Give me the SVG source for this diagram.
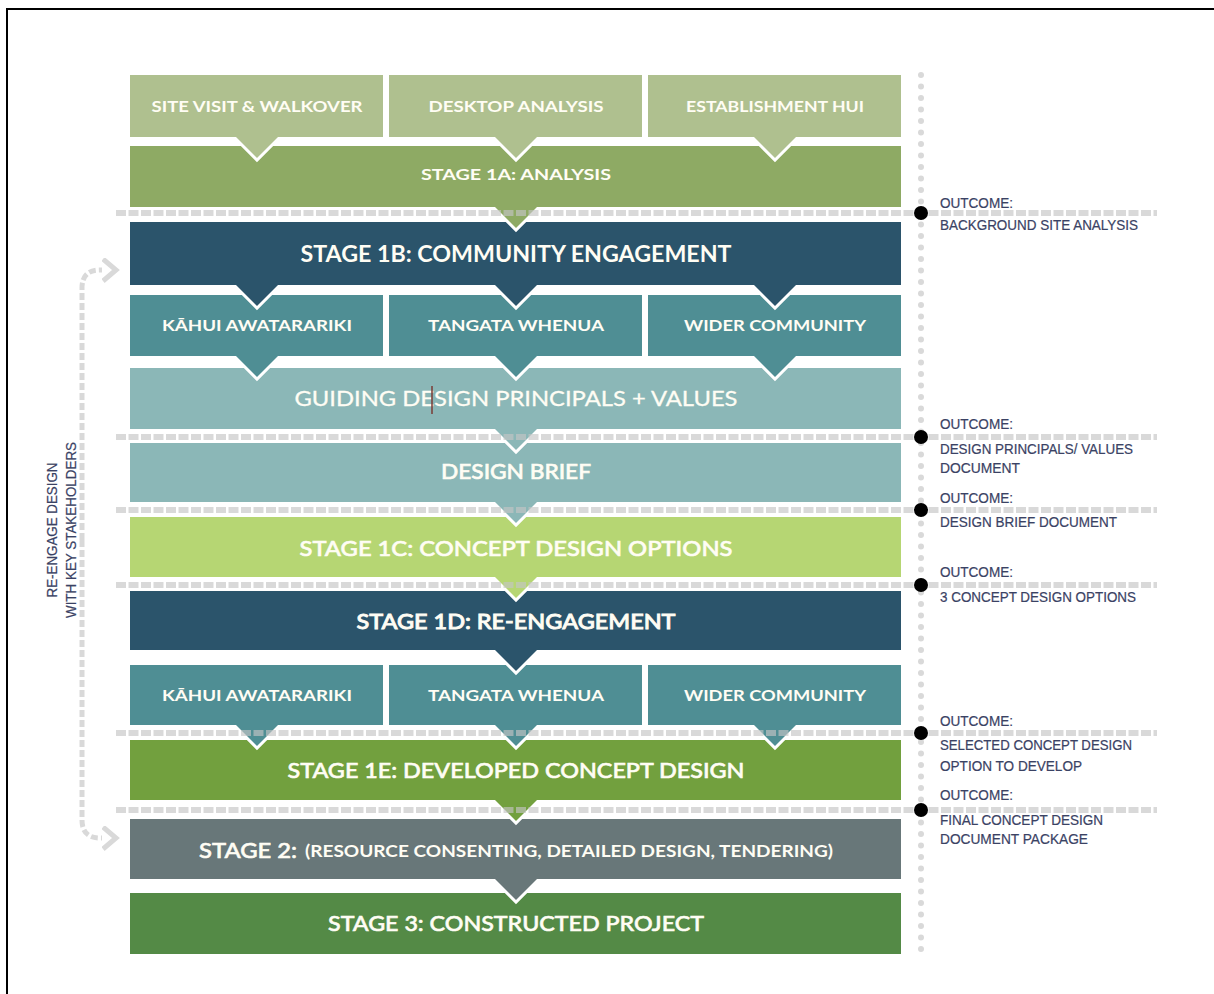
<svg xmlns="http://www.w3.org/2000/svg" xmlns:xlink="http://www.w3.org/1999/xlink" width="1214" height="994" viewBox="0 0 1214 994">
<style>
.lbl{font-family:Lato,"Liberation Sans",sans-serif;fill:#fffdf4;text-anchor:middle}
.sm{font-size:16px;font-weight:700}
.lg{font-size:22px;font-weight:500;stroke:#fffdf4;stroke-width:0.6}
.lgb{font-size:22px;font-weight:700}
.out{font-family:"Liberation Sans Narrow","Liberation Sans",sans-serif;font-size:14px;fill:#3a4264;stroke:#3a4264;stroke-width:0.2}
.sep{stroke:#c4c4c4;stroke-opacity:0.65;stroke-width:6;stroke-dasharray:10 2.5;fill:none}
.loop{stroke:#d9d9d9;stroke-width:5;stroke-dasharray:7 3;fill:none}
</style>
<defs>
<path id="chevO" d="M-21,0 L0,21 L21,0" fill="none" stroke="#ffffff" stroke-width="6"/>
<path id="chevF" d="M-25,-4 L25,-4 L0,21 Z"/>
<marker id="arr" viewBox="0 0 18 26" refX="0" refY="12" markerWidth="18" markerHeight="26" markerUnits="userSpaceOnUse" orient="auto">
<path d="M1,1 L14,12 L1,23" fill="none" stroke="#d9d9d9" stroke-width="5"/>
</marker>
</defs>
<rect width="1214" height="994" fill="#ffffff"/>
<polyline points="7,994 7,9 1214,9" fill="none" stroke="#000" stroke-width="2"/>

<!-- nodes drawn bottom-up so chevrons overlap the next box -->
<g id="stage3">
<rect x="130" y="893" width="771" height="61" fill="#548a46"/>
<text class="lbl lg" x="516" y="931" textLength="376" lengthAdjust="spacingAndGlyphs">STAGE 3: CONSTRUCTED PROJECT</text>
</g>
<g id="stage2">
<rect x="130" y="819" width="771" height="60" fill="#687779"/>
<use xlink:href="#chevO" x="516" y="879"/><use xlink:href="#chevF" x="516" y="879" fill="#687779"/>
<text class="lbl lg" x="199" y="858" style="text-anchor:start" textLength="98" lengthAdjust="spacingAndGlyphs">STAGE 2:</text>
<text class="lbl sm" x="305" y="857" style="text-anchor:start;font-size:17px" textLength="528" lengthAdjust="spacingAndGlyphs">(RESOURCE CONSENTING, DETAILED DESIGN, TENDERING)</text>
</g>
<g id="stage1e">
<rect x="130" y="740" width="771" height="60" fill="#72a03e"/>
<use xlink:href="#chevO" x="516" y="800"/><use xlink:href="#chevF" x="516" y="800" fill="#72a03e"/>
<text class="lbl lg" x="516" y="778" textLength="457" lengthAdjust="spacingAndGlyphs">STAGE 1E: DEVELOPED CONCEPT DESIGN</text>
</g>
<g id="kahui2">
<rect x="130" y="665" width="253" height="60" fill="#4f8e94"/>
<use xlink:href="#chevO" x="257" y="725"/><use xlink:href="#chevF" x="257" y="725" fill="#4f8e94"/>
<text class="lbl sm" x="257" y="701" textLength="190" lengthAdjust="spacingAndGlyphs">KĀHUI AWATARARIKI</text>
</g>
<g id="tangata2">
<rect x="389" y="665" width="253" height="60" fill="#4f8e94"/>
<use xlink:href="#chevO" x="516" y="725"/><use xlink:href="#chevF" x="516" y="725" fill="#4f8e94"/>
<text class="lbl sm" x="516" y="701" textLength="176" lengthAdjust="spacingAndGlyphs">TANGATA WHENUA</text>
</g>
<g id="wider2">
<rect x="648" y="665" width="253" height="60" fill="#4f8e94"/>
<use xlink:href="#chevO" x="775" y="725"/><use xlink:href="#chevF" x="775" y="725" fill="#4f8e94"/>
<text class="lbl sm" x="775" y="701" textLength="182" lengthAdjust="spacingAndGlyphs">WIDER COMMUNITY</text>
</g>
<g id="stage1d">
<rect x="130" y="591" width="771" height="59" fill="#2b546b"/>
<use xlink:href="#chevO" x="516" y="650"/><use xlink:href="#chevF" x="516" y="650" fill="#2b546b"/>
<text class="lbl lg" x="516" y="629" style="stroke-width:0.9" textLength="319" lengthAdjust="spacingAndGlyphs">STAGE 1D: RE-ENGAGEMENT</text>
</g>
<g id="stage1c">
<rect x="130" y="517" width="771" height="60" fill="#b6d673"/>
<use xlink:href="#chevO" x="516" y="577"/><use xlink:href="#chevF" x="516" y="577" fill="#b6d673"/>
<text class="lbl lg" x="516" y="556" textLength="433" lengthAdjust="spacingAndGlyphs">STAGE 1C: CONCEPT DESIGN OPTIONS</text>
</g>
<g id="designbrief">
<rect x="130" y="443" width="771" height="59" fill="#8bb7b7"/>
<use xlink:href="#chevO" x="516" y="502"/><use xlink:href="#chevF" x="516" y="502" fill="#8bb7b7"/>
<text class="lbl lg" x="516" y="479" textLength="150" lengthAdjust="spacingAndGlyphs">DESIGN BRIEF</text>
</g>
<g id="guiding">
<rect x="130" y="368" width="771" height="61" fill="#8bb7b7"/>
<use xlink:href="#chevO" x="516" y="429"/><use xlink:href="#chevF" x="516" y="429" fill="#8bb7b7"/>
<text class="lbl lg" x="516" y="406" style="font-weight:400;stroke-width:0.3" textLength="443" lengthAdjust="spacingAndGlyphs">GUIDING DESIGN PRINCIPALS + VALUES</text>
<line x1="432" y1="386" x2="432" y2="414" stroke="#7a3b35" stroke-width="1.5"/>
</g>
<g id="kahui1">
<rect x="130" y="295" width="253" height="61" fill="#4f8e94"/>
<use xlink:href="#chevO" x="257" y="356"/><use xlink:href="#chevF" x="257" y="356" fill="#4f8e94"/>
<text class="lbl sm" x="257" y="331" textLength="190" lengthAdjust="spacingAndGlyphs">KĀHUI AWATARARIKI</text>
</g>
<g id="tangata1">
<rect x="389" y="295" width="253" height="61" fill="#4f8e94"/>
<use xlink:href="#chevO" x="516" y="356"/><use xlink:href="#chevF" x="516" y="356" fill="#4f8e94"/>
<text class="lbl sm" x="516" y="331" textLength="176" lengthAdjust="spacingAndGlyphs">TANGATA WHENUA</text>
</g>
<g id="wider1">
<rect x="648" y="295" width="253" height="61" fill="#4f8e94"/>
<use xlink:href="#chevO" x="775" y="356"/><use xlink:href="#chevF" x="775" y="356" fill="#4f8e94"/>
<text class="lbl sm" x="775" y="331" textLength="182" lengthAdjust="spacingAndGlyphs">WIDER COMMUNITY</text>
</g>
<g id="stage1b">
<rect x="130" y="222" width="771" height="63" fill="#2b546b"/>
<use xlink:href="#chevO" x="257" y="285"/><use xlink:href="#chevF" x="257" y="285" fill="#2b546b"/>
<use xlink:href="#chevO" x="516" y="285"/><use xlink:href="#chevF" x="516" y="285" fill="#2b546b"/>
<use xlink:href="#chevO" x="775" y="285"/><use xlink:href="#chevF" x="775" y="285" fill="#2b546b"/>
<text class="lbl lgb" x="516" y="262" textLength="431" lengthAdjust="spacingAndGlyphs">STAGE 1B: COMMUNITY ENGAGEMENT</text>
</g>
<g id="stage1a">
<rect x="130" y="146" width="771" height="61" fill="#8eaa64"/>
<use xlink:href="#chevO" x="516" y="207"/><use xlink:href="#chevF" x="516" y="207" fill="#8eaa64"/>
<text class="lbl sm" x="516" y="180" textLength="190" lengthAdjust="spacingAndGlyphs">STAGE 1A: ANALYSIS</text>
</g>
<g id="sitevisit">
<rect x="130" y="75" width="253" height="62" fill="#afc08f"/>
<use xlink:href="#chevO" x="257" y="137"/><use xlink:href="#chevF" x="257" y="137" fill="#afc08f"/>
<text class="lbl sm" x="257" y="112" textLength="211" lengthAdjust="spacingAndGlyphs">SITE VISIT &amp; WALKOVER</text>
</g>
<g id="desktop">
<rect x="389" y="75" width="253" height="62" fill="#afc08f"/>
<use xlink:href="#chevO" x="516" y="137"/><use xlink:href="#chevF" x="516" y="137" fill="#afc08f"/>
<text class="lbl sm" x="516" y="112" textLength="175" lengthAdjust="spacingAndGlyphs">DESKTOP ANALYSIS</text>
</g>
<g id="establishment">
<rect x="648" y="75" width="253" height="62" fill="#afc08f"/>
<use xlink:href="#chevO" x="775" y="137"/><use xlink:href="#chevF" x="775" y="137" fill="#afc08f"/>
<text class="lbl sm" x="775" y="112" textLength="178" lengthAdjust="spacingAndGlyphs">ESTABLISHMENT HUI</text>
</g>

<!-- timeline -->
<g id="timeline">
<line x1="921" y1="75" x2="921" y2="953" stroke="#d9d9d9" stroke-width="6" stroke-linecap="round" stroke-dasharray="0 11.5"/>
<line class="sep" x1="116" y1="213" x2="1157" y2="213"/>
<line class="sep" x1="116" y1="437" x2="1157" y2="437"/>
<line class="sep" x1="116" y1="510" x2="1157" y2="510"/>
<line class="sep" x1="116" y1="585" x2="1157" y2="585"/>
<line class="sep" x1="116" y1="733" x2="1157" y2="733"/>
<line class="sep" x1="116" y1="810" x2="1157" y2="810"/>
<circle cx="921" cy="213" r="7" fill="#000"/>
<circle cx="921" cy="437" r="7" fill="#000"/>
<circle cx="921" cy="510" r="7" fill="#000"/>
<circle cx="921" cy="585" r="7" fill="#000"/>
<circle cx="921" cy="733" r="7" fill="#000"/>
<circle cx="921" cy="810" r="7" fill="#000"/>
</g>

<g id="outcomes">
<text class="out" x="940" y="208" textLength="73" lengthAdjust="spacingAndGlyphs">OUTCOME:</text>
<text class="out" x="940" y="230" textLength="198" lengthAdjust="spacingAndGlyphs">BACKGROUND SITE ANALYSIS</text>
<text class="out" x="940" y="429" textLength="73" lengthAdjust="spacingAndGlyphs">OUTCOME:</text>
<text class="out" x="940" y="454" textLength="193" lengthAdjust="spacingAndGlyphs">DESIGN PRINCIPALS/ VALUES</text>
<text class="out" x="940" y="473" textLength="80" lengthAdjust="spacingAndGlyphs">DOCUMENT</text>
<text class="out" x="940" y="503" textLength="73" lengthAdjust="spacingAndGlyphs">OUTCOME:</text>
<text class="out" x="940" y="527" textLength="177" lengthAdjust="spacingAndGlyphs">DESIGN BRIEF DOCUMENT</text>
<text class="out" x="940" y="577" textLength="73" lengthAdjust="spacingAndGlyphs">OUTCOME:</text>
<text class="out" x="940" y="602" textLength="196" lengthAdjust="spacingAndGlyphs">3 CONCEPT DESIGN OPTIONS</text>
<text class="out" x="940" y="726" textLength="73" lengthAdjust="spacingAndGlyphs">OUTCOME:</text>
<text class="out" x="940" y="750" textLength="192" lengthAdjust="spacingAndGlyphs">SELECTED CONCEPT DESIGN</text>
<text class="out" x="940" y="771" textLength="142" lengthAdjust="spacingAndGlyphs">OPTION TO DEVELOP</text>
<text class="out" x="940" y="800" textLength="73" lengthAdjust="spacingAndGlyphs">OUTCOME:</text>
<text class="out" x="940" y="825" textLength="163" lengthAdjust="spacingAndGlyphs">FINAL CONCEPT DESIGN</text>
<text class="out" x="940" y="844" textLength="148" lengthAdjust="spacingAndGlyphs">DOCUMENT PACKAGE</text>
</g>

<g id="connectors">
<path class="loop" d="M82,540 L82,288 Q82,270 100,270 L102,270" marker-end="url(#arr)"/>
<path class="loop" d="M82,540 L82,820 Q82,838 100,838 L102,838" marker-end="url(#arr)"/>
<text class="out" transform="translate(57,530) rotate(-90)" text-anchor="middle" textLength="135" lengthAdjust="spacingAndGlyphs">RE-ENGAGE DESIGN</text>
<text class="out" transform="translate(76,530) rotate(-90)" text-anchor="middle" textLength="176" lengthAdjust="spacingAndGlyphs">WITH KEY STAKEHOLDERS</text>
</g>
</svg>
